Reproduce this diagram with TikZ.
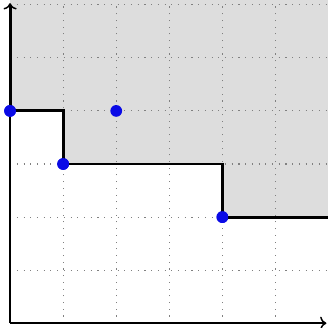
\documentclass[tikz,border=0pt]{standalone}
\usetikzlibrary{arrows.meta}
\definecolor{regiongray}{RGB}{221,221,221}
\definecolor{ptblue}{RGB}{10,10,230}

\begin{document}
\begin{tikzpicture}[x=1cm, y=1cm,
  pt/.style={circle, fill=ptblue, inner sep=0pt, minimum size=6.3pt},
  stair/.style={line width=1.6pt, line join=miter},
  gridline/.style={gray, dash pattern=on 0.6pt off 3pt, line width=0.6pt}]

\useasboundingbox (-0.19,-0.09) rectangle (5.98,6.09);

% ---- shaded region above the staircase ----
\fill[regiongray] (0,6.2) -- (0,4) -- (1,4) -- (1,3) -- (4,3) -- (4,2)
  -- (6.1,2) -- (6.1,6.2) -- cycle;

% ---- dotted grid ----
\foreach \t in {1,...,5} {
  \draw[gridline] (\t,0) -- (\t,6);
}
\foreach \t in {1,...,6} {
  \draw[gridline] (0,\t) -- (6,\t);
}

% ---- axes ----
\draw[->, thick] (0,0) -- (5.96,0);
\draw[->, thick] (0,0) -- (0,6.03);

% ---- staircase ----
\coordinate (top) at (0,6);
\coordinate (right) at (6.1,2);
\node[pt] (p1) at (0,4) {};
\node[pt] (p2) at (1,3) {};
\node[pt] (p3) at (4,2) {};
\node[pt] (q1) at (2,4) {};

\draw[stair] (top) -- (p1.center) -| (p2.center) -| (p3.center) -- (right);
\node[pt] at (p1) {};
\node[pt] at (p2) {};
\node[pt] at (p3) {};

\end{tikzpicture}
\end{document}
